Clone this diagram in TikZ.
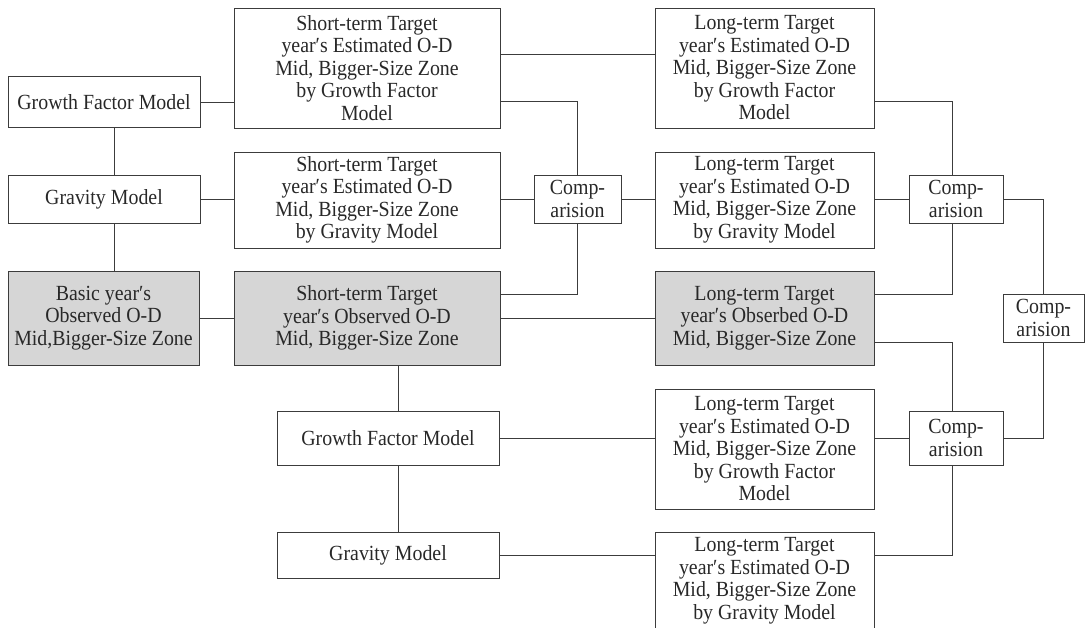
\documentclass[tikz,border=0pt]{standalone}
\usepackage{fontspec}
\setmainfont{Liberation Serif}[FakeStretch=0.92]
\definecolor{lc}{RGB}{60,60,60}
\definecolor{tc}{RGB}{40,40,40}
\definecolor{sh}{RGB}{214,214,214}
\begin{document}
\begin{tikzpicture}[x=1pt,y=-1pt,
 box/.style={draw=lc,line width=1pt,rectangle,inner sep=0pt,align=center,text=tc,font=\fontsize{21.6}{22.5}\selectfont},
 obs/.style={box,fill=sh},
 conn/.style={draw=lc,line width=1pt}]
\useasboundingbox (0,0) rectangle (1085,627);
\clip (0,0) rectangle (1085,627);
% left column
\node[box,minimum width=192pt,minimum height=51pt] (GF1) at (104,102) {Growth Factor Model};
\node[box,minimum width=192pt,minimum height=48pt] (GM1) at (104,199) {Gravity Model};
\node[obs,minimum width=191pt,minimum height=94pt] (B) at (103.5,318) {Basic year′s\\Observed O-D\\Mid,Bigger-Size Zone};
% short-term column
\node[box,minimum width=266pt,minimum height=120pt] (S1) at (367,68) {Short-term Target\\year′s Estimated O-D\\Mid, Bigger-Size Zone\\by Growth Factor\\Model};
\node[box,minimum width=266pt,minimum height=96pt] (S2) at (367,200) {Short-term Target\\year′s Estimated O-D\\Mid, Bigger-Size Zone\\by Gravity Model};
\node[obs,minimum width=266pt,minimum height=94pt] (S3) at (367,318) {Short-term Target\\year′s Observed O-D\\Mid, Bigger-Size Zone};
\node[box,minimum width=222pt,minimum height=54pt] (GF2) at (388,438) {Growth Factor Model};
\node[box,minimum width=222pt,minimum height=46pt] (GM2) at (388,555) {Gravity Model};
% comparison 1
\node[box,minimum width=87pt,minimum height=48pt] (C1) at (577.5,199) {Comp-\\arision};
% long-term column
\node[box,minimum width=219pt,minimum height=120pt] (L1) at (764.5,68) {Long-term Target\\year′s Estimated O-D\\Mid, Bigger-Size Zone\\by Growth Factor\\Model};
\node[box,minimum width=219pt,minimum height=96pt] (L2) at (764.5,200) {Long-term Target\\year′s Estimated O-D\\Mid, Bigger-Size Zone\\by Gravity Model};
\node[obs,minimum width=219pt,minimum height=94pt] (L3) at (764.5,318) {Long-term Target\\year′s Obserbed O-D\\Mid, Bigger-Size Zone};
\node[box,minimum width=219pt,minimum height=120pt] (L4) at (764.5,449) {Long-term Target\\year′s Estimated O-D\\Mid, Bigger-Size Zone\\by Growth Factor\\Model};
\node[box,minimum width=219pt,minimum height=98pt] (L5) at (764.5,581) {Long-term Target\\year′s Estimated O-D\\Mid, Bigger-Size Zone\\by Gravity Model};
% comparisons
\node[box,minimum width=94pt,minimum height=48pt] (C2) at (956,199) {Comp-\\arision};
\node[box,minimum width=81pt,minimum height=48pt] (C3) at (1043.5,318) {Comp-\\arision};
\node[box,minimum width=94pt,minimum height=54pt] (C4) at (956,438) {Comp-\\arision};
% connectors
\draw[conn] (GF1.east) -- (GF1.east -| S1.west);
\draw[conn] ([xshift=10pt]GF1.south) -- ([xshift=10pt]GM1.north);
\draw[conn] (GM1.east) -- (GM1.east -| S2.west);
\draw[conn] ([xshift=10pt]GM1.south) -- ([xshift=10pt]GM1.south |- B.north);
\draw[conn] (B.east) -- (B.east -| S3.west);
\draw[conn] ([yshift=14pt]S1.east) -- ([yshift=14pt]L1.west);
\draw[conn] ([yshift=-33pt]S1.east) -| (C1.north);
\draw[conn] ([yshift=24pt]S3.east) -| (C1.south);
\draw[conn] (C1.west) -- (C1.west -| S2.east);
\draw[conn] (C1.east) -- (C1.east -| L2.west);
\draw[conn] (S3.east) -- (L3.west);
\draw[conn] ([xshift=31pt]S3.south) -- ([xshift=31pt]S3.south |- GF2.north);
\draw[conn] ([xshift=10pt]GF2.south) -- ([xshift=10pt]GM2.north);
\draw[conn] (GF2.east) -- (GF2.east -| L4.west);
\draw[conn] (GM2.east) -- (GM2.east -| L5.west);
\draw[conn] ([yshift=-33pt]L1.east) -| ([xshift=-4pt]C2.north);
\draw[conn] ([yshift=24pt]L3.east) -| ([xshift=-4pt]C2.south);
\draw[conn] (C2.west) -- (C2.west -| L2.east);
\draw[conn] (C2.east) -| (C3.north);
\draw[conn] ([yshift=-24pt]L3.east) -| ([xshift=-4pt]C4.north);
\draw[conn] (C3.south) |- (C4.east);
\draw[conn] (C4.west) -- (C4.west -| L4.east);
\draw[conn] ([xshift=-4pt]C4.south) |- (L5.east |- GM2.east);
\end{tikzpicture}
\end{document}
